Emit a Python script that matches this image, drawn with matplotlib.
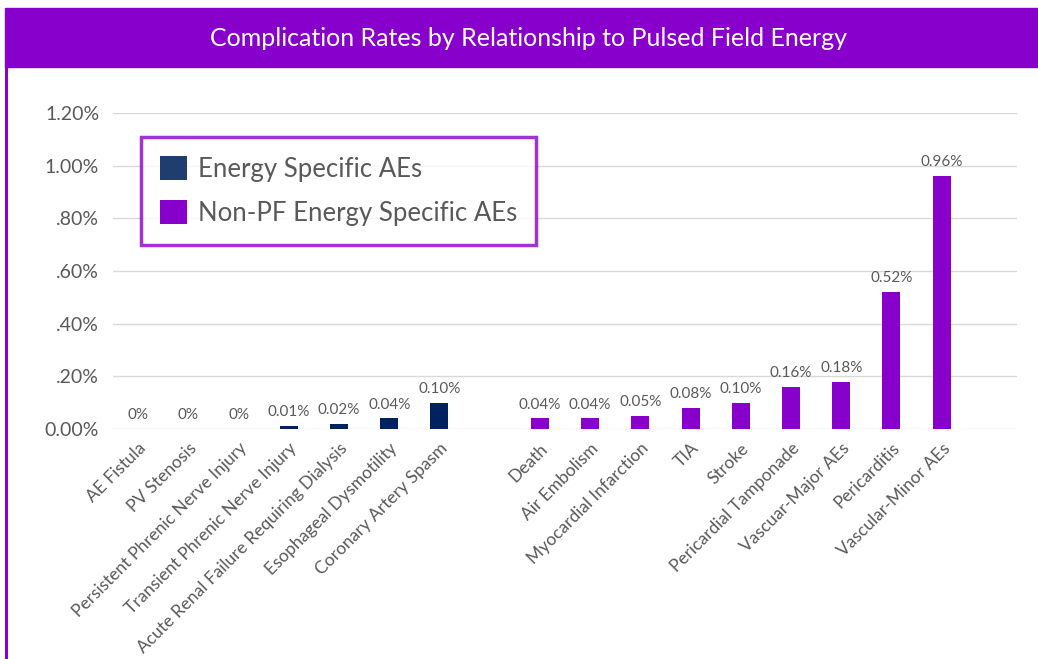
import numpy as np
import matplotlib
matplotlib.use("Agg")
import matplotlib.pyplot as plt
from matplotlib.patches import Rectangle, Patch
from matplotlib.lines import Line2D

plt.rcParams['font.family'] = ['Lato', 'DejaVu Sans']

energy_labels = ["AE Fistula", "PV Stenosis", "Persistent Phrenic Nerve Injury",
                 "Transient Phrenic Nerve Injury", "Acute Renal Failure Requiring Dialysis",
                 "Esophageal Dysmotility", "Coronary Artery Spasm"]
energy_vals = [0, 0, 0, 0.01, 0.02, 0.04, 0.10]
energy_text = ["0%", "0%", "0%", "0.01%", "0.02%", "0.04%", "0.10%"]

nonpf_labels = ["Death", "Air Embolism", "Myocardial Infarction", "TIA", "Stroke",
                "Pericardial Tamponade", "Vascuar-Major AEs", "Pericarditis", "Vascular-Minor AEs"]
nonpf_vals = [0.04, 0.04, 0.05, 0.08, 0.10, 0.16, 0.18, 0.52, 0.96]
nonpf_text = ["0.04%", "0.04%", "0.05%", "0.08%", "0.10%", "0.16%", "0.18%", "0.52%", "0.96%"]

yticks = [0, 0.2, 0.4, 0.6, 0.8, 1.0, 1.2]
ytick_labels = ["0.00%", ".20%", ".40%", ".60%", ".80%", "1.00%", "1.20%"]

title = "Complication Rates by Relationship to Pulsed Field Energy"
legend_names = ["Energy Specific AEs", "Non-PF Energy Specific AEs"]

navy = "#00235F"
navy_leg = "#1F3D6E"
purple = "#8800CC"
grey = "#595959"

W, H = 1038, 659
fig = plt.figure(figsize=(W / 100, H / 100), dpi=100)

# header band + left border
fig.patches.append(Rectangle((5 / W, 1 - 67 / H), 1 - 5 / W, 59 / H,
                             transform=fig.transFigure, color=purple, zorder=0))
fig.lines.append(Line2D([6 / W, 6 / W], [0, 1 - 67 / H], transform=fig.transFigure,
                        color=purple, linewidth=2.2))
fig.text(529 / W, 1 - 39 / H, title, color="white", fontsize=18,
         ha="center", va="center")

ax = fig.add_axes([113 / W, 1 - 429 / H, (1017 - 113) / W, (429 - 113) / H])

x1 = np.arange(len(energy_vals))
x2 = np.arange(len(nonpf_vals)) + len(energy_vals) + 1
b1 = ax.bar(x1, energy_vals, width=0.36, color=navy, zorder=3)
b2 = ax.bar(x2, nonpf_vals, width=0.36, color=purple, zorder=3)
ax.bar_label(b1, labels=energy_text, padding=5, color=grey, fontsize=11)
ax.bar_label(b2, labels=nonpf_text, padding=5, color=grey, fontsize=11)

ax.set_xlim(-0.5, 17.5)
ax.set_ylim(0, 1.2)
ax.set_yticks(yticks)
ax.set_yticklabels(ytick_labels, color=grey, fontsize=14)
ax.set_xticks(list(x1) + list(x2))
ax.set_xticklabels(energy_labels + nonpf_labels, rotation=45, ha="right",
                   rotation_mode="anchor", color=grey, fontsize=12.5)
ax.tick_params(length=0, axis="y", pad=10)
ax.tick_params(length=0, axis="x", pad=8)
ax.grid(axis="y", color="#D9D9D9", linewidth=1, zorder=0)
ax.set_axisbelow(True)
for s in ax.spines.values():
    s.set_visible(False)

handles = [Patch(facecolor=navy_leg), Patch(facecolor=purple)]
leg = fig.legend(handles, legend_names, loc="upper left",
                 bbox_to_anchor=(141 / W, 1 - 137 / H), borderaxespad=0,
                 fontsize=18.5, frameon=True, fancybox=False, edgecolor=purple,
                 handlelength=1.05, handleheight=1.05, handletextpad=0.4,
                 labelspacing=0.7, borderpad=0.75, labelcolor=grey)
leg.get_frame().set_linewidth(2.5)

fig.savefig("out.png", dpi=100)
